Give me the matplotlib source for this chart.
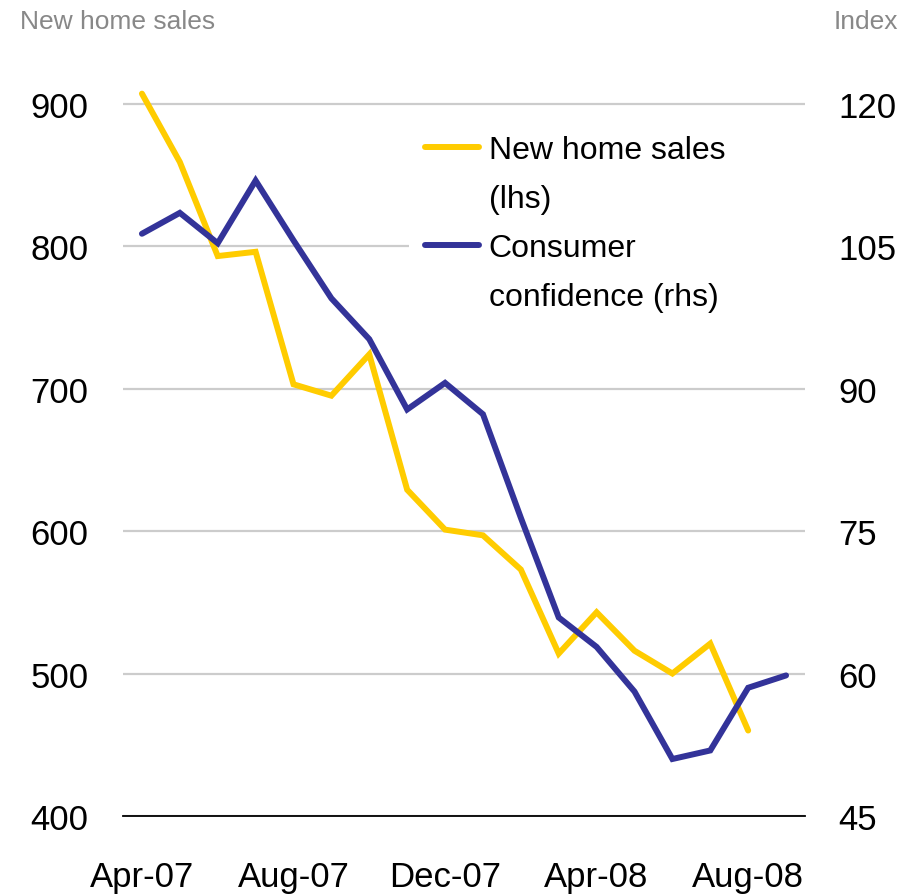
import matplotlib
matplotlib.use("Agg")
from matplotlib import pyplot as plt
from matplotlib.lines import Line2D
import numpy as np

# monthly data, Apr-07 .. Sep-08
months = ['Apr-07', 'May-07', 'Jun-07', 'Jul-07', 'Aug-07', 'Sep-07', 'Oct-07',
          'Nov-07', 'Dec-07', 'Jan-08', 'Feb-08', 'Mar-08', 'Apr-08', 'May-08',
          'Jun-08', 'Jul-08', 'Aug-08', 'Sep-08']
home_sales = [907, 859, 793, 796, 703, 695, 724, 629, 601, 597, 573, 514,
              543, 516, 500, 521, 460]
confidence = [106.3, 108.5, 105.3, 111.9, 105.6, 99.5, 95.2, 87.8, 90.6,
              87.3, 76.4, 65.9, 62.8, 58.1, 51.0, 51.9, 58.5, 59.8]
tick_months = ['Apr-07', 'Aug-07', 'Dec-07', 'Apr-08', 'Aug-08']
left_ticks = [400, 500, 600, 700, 800, 900]
right_ticks = [45, 60, 75, 90, 105, 120]

YELLOW = '#FFCC00'
BLUE = '#333399'
tick_font = ['Liberation Sans', 'DejaVu Sans']

fig = plt.figure(figsize=(9.12, 8.95), dpi=100)
ax = fig.add_axes([123 / 912, 78 / 895, 682 / 912, 748 / 895])
ax2 = ax.twinx()

x_sales = np.arange(len(home_sales))
x_conf = np.arange(len(confidence))

l1, = ax.plot(x_sales, home_sales, color=YELLOW, lw=4.3,
              solid_capstyle='round', solid_joinstyle='miter', zorder=3)
l2, = ax2.plot(x_conf, confidence, color=BLUE, lw=4.3,
               solid_capstyle='round', solid_joinstyle='miter', zorder=3)

ax.set_xlim(-0.5, len(months) - 0.5)
ax.set_ylim(400, 925)
ax2.set_ylim(45, 45 + 525 * 0.15)

ax.set_yticks(left_ticks)
ax2.set_yticks(right_ticks)
ax.set_xticks([months.index(m) for m in tick_months])
ax.set_xticklabels(tick_months)

for a in (ax, ax2):
    for s in a.spines.values():
        s.set_visible(False)
ax.spines['bottom'].set_visible(True)
ax.spines['bottom'].set_color('black')
ax.spines['bottom'].set_linewidth(1.3)
ax.spines['bottom'].set_zorder(4)

ax.yaxis.grid(True, color='#CCCCCC', lw=1.6)
ax.set_axisbelow(True)

ax.tick_params(axis='y', length=0, pad=25, labelsize=25)
ax2.tick_params(axis='y', length=0, pad=24, labelsize=25)
ax.tick_params(axis='x', length=0, pad=32, labelsize=25)
for lab in ax.get_xticklabels() + ax.get_yticklabels() + ax2.get_yticklabels():
    lab.set_family(tick_font)

fig.text(20 / 912, 1 - 22 / 895, 'New home sales', ha='left', va='center',
         fontsize=19, color='#888888', family=tick_font)
fig.text(898 / 912, 1 - 22 / 895, 'Index', ha='right', va='center',
         fontsize=19, color='#888888', family=tick_font)

# legend: second line of each label is a blank entry so the handle sits on line one
blank = Line2D([], [], color='none')
leg = ax2.legend([l1, blank, l2, blank],
                 ['New home sales', '(lhs)', 'Consumer', 'confidence (rhs)'],
                 loc='upper left', bbox_to_anchor=(0.419, 0.932, 0.581, 0.0),
                 mode='expand', borderaxespad=0, borderpad=0.5,
                 labelspacing=0.6, handlelength=1.7, handletextpad=0.3,
                 prop={'family': tick_font, 'size': 23},
                 frameon=True, fancybox=False)
leg.get_frame().set_facecolor('white')
leg.get_frame().set_edgecolor('none')
leg.get_frame().set_alpha(1)
leg.set_zorder(10)

fig.savefig('out.png', dpi=100)
